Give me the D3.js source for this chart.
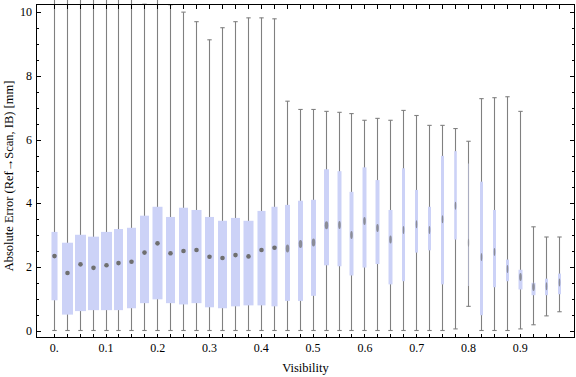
<!DOCTYPE html>
<html>
<head>
<meta charset="utf-8">
<script src="https://cdn.jsdelivr.net/npm/d3@7"></script>
<style>
    body { margin: 0; background: #fff; }
    svg { display: block; }
    text { font-family: "Liberation Serif", "DejaVu Serif", serif; fill: #000; }
    .tick-label { font-size: 12px; }
    .axis-title { font-size: 12.5px; }
</style>
</head>
<body>
<svg id="chart" width="576" height="377"></svg>
<script>
// Visibility bins (one box per bin)
const VISIBILITY = [
    0.000, 0.025, 0.050, 0.075, 0.100, 0.125, 0.150, 0.175, 0.200, 0.225,
    0.250, 0.275, 0.300, 0.325, 0.350, 0.375, 0.400, 0.425, 0.450, 0.475,
    0.500, 0.525, 0.550, 0.575, 0.600, 0.625, 0.650, 0.675, 0.700, 0.725,
    0.750, 0.775, 0.800, 0.825, 0.850, 0.875, 0.900, 0.925, 0.950, 0.975
];

// Absolute error [mm] statistics per bin
const WHISKER_LOW = [
    0, 0, 0, 0, 0, 0, 0, 0, 0, 0,
    0, 0, 0, 0, 0, 0, 0, 0, 0, 0,
    0, 0, 0, 0, 0, 0, 0, 0, 0, 0,
    0, 0.05, 0.76, 0, 0, 0, 0.05, 0.18, 0.46, 0.59
];
const Q1 = [
    0.95, 0.50, 0.61, 0.64, 0.64, 0.64, 0.70, 0.86, 0.98, 0.86,
    0.82, 0.86, 0.73, 0.70, 0.76, 0.79, 0.79, 0.76, 0.93, 0.93,
    1.09, 2.05, 2.02, 1.73, 1.98, 2.09, 1.45, 1.55, 2.45, 2.52,
    1.45, 2.86, 1.40, 0.48, 1.36, 1.55, 1.29, 1.11, 1.11, 1.14
];
const MEDIAN = [
    2.34, 1.81, 2.08, 1.97, 2.05, 2.12, 2.16, 2.45, 2.74, 2.43,
    2.50, 2.53, 2.32, 2.28, 2.37, 2.33, 2.53, 2.60, 2.58, 2.72,
    2.77, 3.31, 3.32, 3.00, 3.44, 3.22, 2.86, 3.16, 3.34, 3.16,
    3.50, 3.92, 2.76, 2.31, 2.47, 1.93, 1.68, 1.37, 1.39, 1.51
];
const Q3 = [
    3.10, 2.76, 3.01, 2.95, 3.10, 3.19, 3.23, 3.61, 3.89, 3.57,
    3.86, 3.79, 3.57, 3.45, 3.54, 3.45, 3.76, 3.89, 3.95, 4.08,
    4.11, 5.07, 5.01, 4.36, 5.13, 4.73, 3.79, 5.10, 4.42, 3.89,
    5.49, 5.64, 5.25, 4.68, 3.79, 2.23, 1.91, 1.50, 1.63, 1.79
];
const WHISKER_HIGH = [
    11.0, 11.0, 11.0, 11.0, 11.0, 11.0, 11.0, 10.26, 11.0, 10.24,
    10.01, 9.71, 9.14, 9.52, 9.71, 9.83, 9.83, 9.80, 7.21, 6.95,
    6.95, 6.89, 6.86, 6.82, 6.61, 6.67, 6.61, 6.92, 6.76, 6.45,
    6.45, 6.35, 5.95, 7.29, 7.32, 7.35, 6.89, 3.26, 2.94, 2.94
];
// Relative sample weight per bin (drives the box width)
const WEIGHT = [
    0.55, 1.00, 1.00, 1.00, 1.00, 0.82, 0.82, 0.82, 0.91, 0.82,
    0.82, 0.91, 0.82, 0.82, 0.82, 0.91, 0.73, 0.55, 0.45, 0.45,
    0.45, 0.45, 0.36, 0.36, 0.36, 0.36, 0.36, 0.27, 0.27, 0.27,
    0.27, 0.23, 0.09, 0.27, 0.27, 0.27, 0.36, 0.36, 0.27, 0.27
];

// Axis ticks
const X_LABEL_TICKS = [0, 0.1, 0.2, 0.3, 0.4, 0.5, 0.6, 0.7, 0.8, 0.9];
const X_LABELS = ["0.", "0.1", "0.2", "0.3", "0.4", "0.5", "0.6", "0.7", "0.8", "0.9"];
const Y_MAJOR = [0, 2, 4, 6, 8, 10];
const Y_MINOR = [0.5, 1, 1.5, 2.5, 3, 3.5, 4.5, 5, 5.5, 6.5, 7, 7.5, 8.5, 9, 9.5];

const BOX_COLOR = "rgb(204, 210, 247)";
const WHISKER_COLOR = "#808080";
const MEDIAN_COLOR = "#6f6f6f";

class BoxWhiskerPresenter {

    constructor(targetSvg) {
        const self = this;

        self._svg = d3.select(targetSvg);

        self._left = 36.5;
        self._right = 574.5;
        self._top = 4.5;
        self._bottom = 337.5;

        self._x = d3.scaleLinear()
            .domain([-0.0334, 1.0059])
            .range([self._left, self._right]);

        self._y = d3.scaleLinear()
            .domain([-0.22, 10.25])
            .range([self._bottom, self._top]);

        self._width = d3.scaleLinear()
            .domain([0, 1])
            .range([0, 11]);
    }

    render() {
        const self = this;
        const svg = self._svg;
        const x = self._x;
        const y = self._y;

        const data = VISIBILITY.map((v, i) => ({
            "v": v,
            "lo": WHISKER_LOW[i],
            "q1": Q1[i],
            "med": MEDIAN[i],
            "q3": Q3[i],
            "hi": WHISKER_HIGH[i],
            "w": self._width(WEIGHT[i])
        }));

        const drawWhiskers = () => {
            const g = svg.append("g")
                .attr("stroke", WHISKER_COLOR)
                .attr("stroke-width", 1.1);

            g.selectAll(".whisker")
                .data(data)
                .enter().append("line")
                .classed("whisker", true)
                .attr("x1", (d) => Math.round(x(d.v)) + 0.5)
                .attr("x2", (d) => Math.round(x(d.v)) + 0.5)
                .attr("y1", (d) => y(d.lo))
                .attr("y2", (d) => y(d.hi));

            const caps = [];
            data.forEach((d) => {
                caps.push({ "v": d.v, "val": d.lo });
                caps.push({ "v": d.v, "val": d.hi });
            });

            g.selectAll(".cap")
                .data(caps)
                .enter().append("line")
                .classed("cap", true)
                .attr("x1", (d) => Math.round(x(d.v)) + 0.5 - 2.2)
                .attr("x2", (d) => Math.round(x(d.v)) + 0.5 + 2.2)
                .attr("y1", (d) => y(d.val))
                .attr("y2", (d) => y(d.val));
        };

        const drawBoxes = () => {
            svg.append("g").selectAll(".box")
                .data(data)
                .enter().append("rect")
                .classed("box", true)
                .attr("x", (d) => Math.round(x(d.v)) + 0.5 - d.w / 2)
                .attr("width", (d) => d.w)
                .attr("y", (d) => y(d.q3))
                .attr("height", (d) => y(d.q1) - y(d.q3))
                .attr("fill", BOX_COLOR)
                .attr("fill-opacity", (d) => d.w < 2 ? 0.55 : 1);
        };

        const drawMedians = () => {
            svg.append("g").selectAll(".median")
                .data(data)
                .enter().append("ellipse")
                .classed("median", true)
                .attr("cx", (d) => Math.round(x(d.v)) + 0.5)
                .attr("cy", (d) => y(d.med))
                .attr("rx", (d) => d.w >= 6 ? 2.3 : Math.max(0.8, d.w / 2 - 0.7))
                .attr("ry", (d) => d.w >= 6 ? 2.3 : 4)
                .attr("fill", MEDIAN_COLOR)
                .attr("fill-opacity", (d) => d.w >= 6 ? 1 : (d.w < 2 ? 0.35 : 0.7));
        };

        const drawFrame = () => {
            const g = svg.append("g")
                .attr("stroke", "#000")
                .attr("stroke-width", 1)
                .attr("shape-rendering", "crispEdges");

            g.append("rect")
                .attr("x", self._left)
                .attr("y", self._top)
                .attr("width", self._right - self._left)
                .attr("height", self._bottom - self._top)
                .attr("fill", "none");

            // ticks at each bin, bottom (pointing up) and top (pointing down)
            g.selectAll(".xtick-bottom")
                .data(VISIBILITY)
                .enter().append("line")
                .attr("x1", (v) => Math.round(x(v)) + 0.5)
                .attr("x2", (v) => Math.round(x(v)) + 0.5)
                .attr("y1", self._bottom)
                .attr("y2", self._bottom - 4);

            g.selectAll(".xtick-top")
                .data(VISIBILITY)
                .enter().append("line")
                .attr("x1", (v) => Math.round(x(v)) + 0.5)
                .attr("x2", (v) => Math.round(x(v)) + 0.5)
                .attr("y1", self._top)
                .attr("y2", self._top + 4);

            const yTicks = Y_MAJOR.map((t) => ({ "t": t, "len": 4.5 }))
                .concat(Y_MINOR.map((t) => ({ "t": t, "len": 2.5 })));

            g.selectAll(".ytick-left")
                .data(yTicks)
                .enter().append("line")
                .attr("x1", self._left)
                .attr("x2", (d) => self._left + d.len)
                .attr("y1", (d) => Math.round(y(d.t)) + 0.5)
                .attr("y2", (d) => Math.round(y(d.t)) + 0.5);

            g.selectAll(".ytick-right")
                .data(yTicks)
                .enter().append("line")
                .attr("x1", self._right)
                .attr("x2", (d) => self._right - d.len)
                .attr("y1", (d) => Math.round(y(d.t)) + 0.5)
                .attr("y2", (d) => Math.round(y(d.t)) + 0.5);
        };

        const drawLabels = () => {
            svg.append("g").selectAll(".x-label")
                .data(X_LABEL_TICKS)
                .enter().append("text")
                .classed("tick-label", true)
                .attr("x", (v) => x(v) + 0.5)
                .attr("y", 352)
                .attr("text-anchor", "middle")
                .text((v, i) => X_LABELS[i]);

            svg.append("g").selectAll(".y-label")
                .data(Y_MAJOR)
                .enter().append("text")
                .classed("tick-label", true)
                .attr("x", 32)
                .attr("y", (t) => y(t) + 4)
                .attr("text-anchor", "end")
                .text((t) => t);

            svg.append("text")
                .classed("axis-title", true)
                .attr("x", (self._left + self._right) / 2)
                .attr("y", 372)
                .attr("text-anchor", "middle")
                .text("Visibility");

            svg.append("text")
                .classed("axis-title", true)
                .attr("transform", "translate(13 " + 176 + ") rotate(-90)")
                .attr("text-anchor", "middle")
                .text("Absolute Error (Ref\u2192Scan, IB) [mm]");
        };

        drawWhiskers();
        drawBoxes();
        drawMedians();
        drawFrame();
        drawLabels();
    }

}

const presenter = new BoxWhiskerPresenter(document.getElementById("chart"));
presenter.render();
</script>
</body>
</html>
